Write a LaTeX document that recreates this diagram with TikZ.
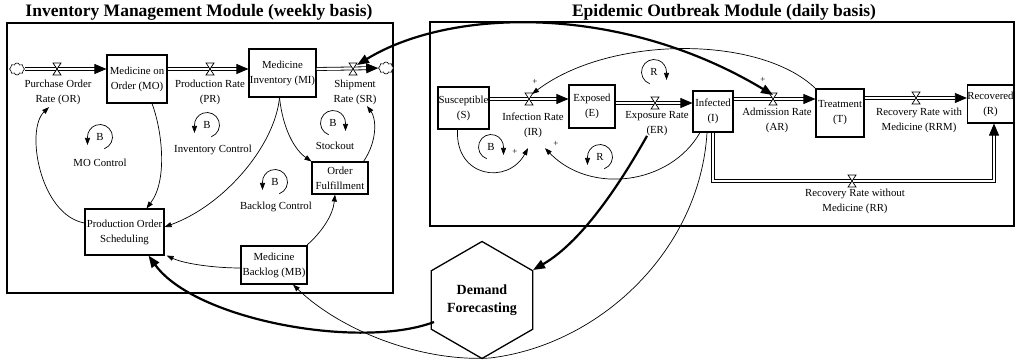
\documentclass[tikz,border=0pt]{standalone}
\usepackage{fontspec}
\setmainfont{Liberation Serif}
\usetikzlibrary{arrows.meta,shapes.symbols,shapes.geometric,calc}
\tikzset{
  valve/.pic={\draw[fill=white, line width=0.7pt] (-4,-6) -- (4,-6) -- (-4,6) -- (4,6) -- cycle;},
  link/.style={line width=0.7pt, -{Triangle[length=7pt,width=5pt]}},
  lloop/.pic={\draw[link] (290:12.5) arc[start angle=290, end angle=540, radius=12.5] -- ++(0,-8);},
  rloop/.pic={\draw[link] (250:12.5) arc[start angle=250, end angle=0, radius=12.5] -- ++(0,-8);},
}
\begin{document}
\begin{tikzpicture}[x=1pt,y=1pt,yscale=-1,
  every node/.style={font=\fontsize{10.8}{15}\selectfont, align=center, inner sep=0pt},
  box/.style={draw, line width=1.1pt, fill=white},
  module/.style={line width=1.3pt},
  title/.style={font=\bfseries\fontsize{17.5}{20}\selectfont},
  heavy/.style={line width=2.2pt, -{Triangle[length=12pt,width=9pt]}},
  pipebody/.style={double, line width=0.8pt, double distance=2.2pt},
  pipe/.style={pipebody, -{Triangle[length=12pt,width=10pt]}},
  cloudn/.style={cloud, cloud puffs=8, aspect=1.2, draw, line width=0.6pt, fill=white, minimum width=15pt, minimum height=12pt},
  plus/.style={font=\fontsize{9}{9}\selectfont},
]
\useasboundingbox (0,0) rectangle (1016,363);

% titles and module frames
\node[title] (t1) at (199,12) {Inventory Management Module (weekly basis)};
\node[title] (t2) at (724,12) {Epidemic Outbreak Module (daily basis)};
\draw[module] (7,23) rectangle (393,293);
\draw[module] (430,22) rectangle (1014,226);

% inventory module
\node[box, minimum width=60pt, minimum height=48pt] (MO) at (137,79) {Medicine on\\Order (MO)};
\node[box, minimum width=67pt, minimum height=48pt] (MI) at (282.5,73) {Medicine\\Inventory (MI)};
\node[box, minimum width=56pt, minimum height=32pt] (OF) at (340,178) {Order\\Fulfillment};
\node[box, minimum width=79pt, minimum height=46pt] (POS) at (124.5,232) {Production Order\\Scheduling};
\node[box, minimum width=66pt, minimum height=38pt] (MB) at (274,265) {Medicine\\Backlog (MB)};
\node[cloudn] (cL) at (17,69) {};
\node[cloudn] (cR) at (386,68) {};
\coordinate (vOR) at (57,69);
\coordinate (vPR) at (210,69);
\coordinate (vSR) at (353,69);
\node (OR) at (58,92.5) {Purchase Order\\Rate (OR)};
\node (PR) at (210,92.5) {Production Rate\\(PR)};
\node (SR) at (355,92.5) {Shipment\\Rate (SR)};

% epidemic module
\node[box, minimum width=51pt, minimum height=42pt] (S) at (463.5,108) {Susceptible\\(S)};
\node[box, minimum width=46pt, minimum height=43pt] (E) at (592,106.5) {Exposed\\(E)};
\node[box, minimum width=40pt, minimum height=41pt] (I) at (713,111.5) {Infected\\(I)};
\node[box, minimum width=48pt, minimum height=48pt] (T) at (840,113) {Treatment\\(T)};
\node[box, minimum width=45pt, minimum height=38pt] (R) at (990.5,104) {Recovered\\(R)};
\coordinate (vIR) at (529,99);
\coordinate (vER) at (655,103);
\coordinate (vAR) at (773,99);
\coordinate (vRRM) at (916,98);
\coordinate (vRR) at (852,181);
\coordinate (cRR) at (994,181);
\node (IR) at (533,125) {Infection Rate\\(IR)};
\node (ER) at (657,123.5) {Exposure Rate\\(ER)};
\node (AR) at (777,120.5) {Admission Rate\\(AR)};
\node (RRM) at (919,120) {Recovery Rate with\\Medicine (RRM)};
\node (RRl) at (855,201) {Recovery Rate without\\Medicine (RR)};

% demand forecasting
\node[draw, line width=1.3pt, fill=white, regular polygon, regular polygon sides=6, shape border rotate=30, minimum size=117pt, font=\bfseries\fontsize{14}{18}\selectfont] (DF) at (482,300) {Demand\\Forecasting};

% pipes
\draw[pipe] (cL) -- (MO.west |- cL);
\draw[pipe] (MO.east |- vPR) -- (MI.west |- vPR);
\draw[pipe] (MI.east |- vSR) -- (cR);
\draw[pipe] (S.east |- vIR) -- (E.west |- vIR);
\draw[pipe] (E.east |- vER) -- (I.west |- vER);
\draw[pipe] (I.east |- vAR) -- (T.west |- vAR);
\draw[pipe] (T.east |- vRRM) -- (R.west |- vRRM);
\draw[pipe, line join=miter] (I.south) |- (cRR) -- (R.south -| cRR);
\foreach \v in {vOR,vPR,vSR,vIR,vER,vAR,vRRM,vRR} \pic at (\v) {valve};

% inventory links
\draw[link] ($(MO.south)+(15,0)$) .. controls (162,130) and (168,180) .. ($(POS.north)+(22,0)$);
\draw[link] ($(POS.west)+(0,-9)$) .. controls (40,215) and (25,130) .. ($(OR.south)+(-9,2)$);
\draw[link] ($(MI.south)+(-3,0)$) .. controls (275,145) and (225,205) .. ($(POS.east)+(0,-5)$);
\draw[link] ($(MI.south)+(-3,0)$) .. controls (283,130) and (295,150) .. (OF.north west);
\draw[link] ($(OF.north east)+(-5,0)$) .. controls (378,140) and (376,118) .. ($(SR.south)+(12,1)$);
\draw[link] ($(MB.north east)+(-1,0)$) .. controls (322,232) and (333,215) .. ($(OF.south)+(-5,0)$);
\draw[link] ($(MB.west)+(0,3)$) .. controls (215,268) and (185,264) .. ($(POS.south east)+(2,0)$);

% epidemic links
\draw[link] ($(I.south)+(-13,0)$) .. controls (670,185) and (590,195) .. ($(IR.south)+(12,10.5)$);
\draw[link] ($(S.south)+(-6,0)$) .. controls (455,178) and (508,185) .. ($(IR.south)+(-5,10.5)$);
\draw[link] (T.north west) .. controls (760,35) and (610,35) .. ($(vIR)+(3,-5)$);
\coordinate (low) at (490,358);
\draw[link] ($(I.south)+(-6,0)$) .. controls (700,250) and (600,345) .. (low) .. controls (420,362) and (340,330) .. ($(MB.south)+(19,0)$);

% heavy links
\draw[heavy] ($(DF.center)+(-48,22)$) .. controls (360,350) and (195,320) .. ($(POS.south)+(24,0)$);
\draw[heavy] ($(ER.south)+(-10,0)$) .. controls (625,175) and (585,240) .. ($(DF.center)+(51,-30)$);
\draw[heavy, {Triangle[length=12pt,width=9pt]}-{Triangle[length=12pt,width=9pt]}] ($(vSR)+(4,-4)$) .. controls (450,8) and (620,3) .. ($(vAR)+(0,-4)$);

% polarity signs
\node[plus] (p1) at (535,82) {+};
\node[plus] (p2) at (763,80) {+};
\node[plus] (p3) at (556,144) {+};
\node[plus] (p4) at (515,152) {+};

% loops
\node (bMO) at (100,137) {B};
\pic at (bMO) {lloop};
\node (lMO) at (100,163) {MO Control};
\node (bIC) at (207,125) {B};
\pic at (bIC) {lloop};
\node (lIC) at (213,150) {Inventory Control};
\node (bSO) at (333,123) {B};
\pic at (bSO) {rloop};
\node (lSO) at (335,146) {Stockout};
\node (bBC) at (275,182) {B};
\pic at (bBC) {lloop};
\node (lBC) at (276,207) {Backlog Control};
\node (rTop) at (654,72) {R};
\pic at (rTop) {rloop};
\node (bS) at (491,147) {B};
\pic at (bS) {rloop};
\node (rE) at (600,157) {R};
\pic at (rE) {lloop};
\end{tikzpicture}
\end{document}
